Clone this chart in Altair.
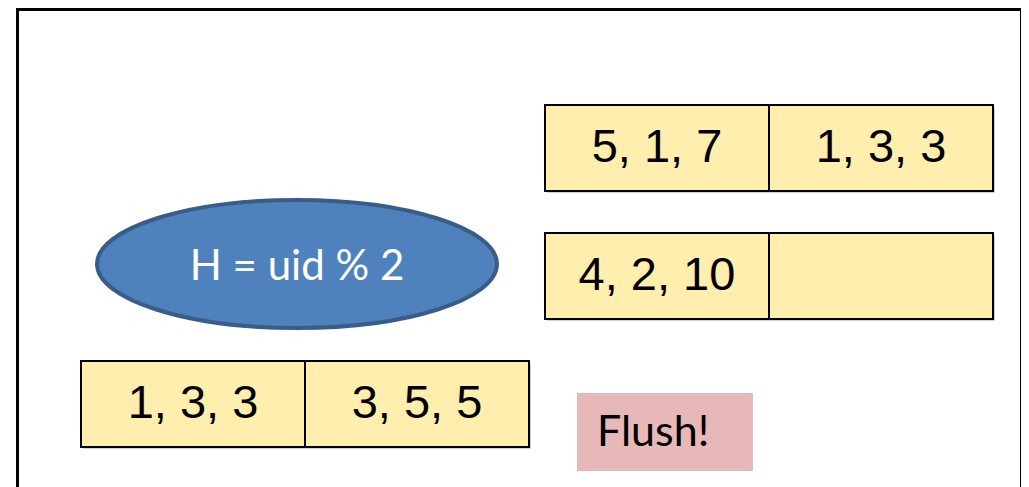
import altair as alt
import pandas as pd

# ---------------- content ----------------
upper_row = ["5, 1, 7", "1, 3, 3"]
middle_row = ["4, 2, 10", ""]
lower_row = ["1, 3, 3", "3, 5, 5"]
hash_label = ["H = uid % 2"]
flush_label = ["Flush!"]

# ---------------- layout (scene units = page pixels) ----------------
W, H = 1013, 479
X_DOM = [8, 8 + W]
Y_DOM = [8, 8 + H]
CELL_W, CELL_H = 224, 86
row_layout = [(545, 105, upper_row), (545, 233, middle_row), (81, 361, lower_row)]

cells = []
for x0, y0, labels in row_layout:
    for i, lab in enumerate(labels):
        x = x0 + i * CELL_W
        cells.append(dict(x=x, x2=x + CELL_W, y=y0, y2=y0 + CELL_H,
                          cx=x + CELL_W / 2, cy=y0 + CELL_H / 2, label=lab,
                          sx=x + 2, sx2=x + CELL_W + 2, sy=y0 + 2, sy2=y0 + CELL_H + 2))
cells_df = pd.DataFrame(cells)

frame_df = pd.DataFrame([dict(x=17.5, x2=1021.5, y=9.5, y2=520)])
ellipse_df = pd.DataFrame([dict(x=297, y=264, tx=297, ty=267, label=hash_label[0])])
flush_df = pd.DataFrame([dict(x=577, x2=753, y=393, y2=471, tx=597, ty=433, label=flush_label[0])])

xs = alt.Scale(domain=X_DOM, nice=False, zero=False)
ys = alt.Scale(domain=Y_DOM, nice=False, zero=False, reverse=True)


def X(f):
    return alt.X(f, type="quantitative", scale=xs, axis=None)


def Y(f):
    return alt.Y(f, type="quantitative", scale=ys, axis=None)


frame = alt.Chart(frame_df).mark_rect(filled=False, fill=None, stroke="black", strokeWidth=3).encode(
    x=X("x"), x2="x2", y=Y("y"), y2="y2")

shadow = alt.Chart(cells_df).mark_rect(color="#7f7f7f", opacity=0.35).encode(
    x=X("sx"), x2="sx2", y=Y("sy"), y2="sy2")

boxes = alt.Chart(cells_df).mark_rect(fill="#FFEEAD", stroke="black", strokeWidth=2).encode(
    x=X("x"), x2="x2", y=Y("y"), y2="y2")

box_text = alt.Chart(cells_df).mark_text(font="Liberation Sans", fontSize=47, align="center",
                                         baseline="middle", color="black").encode(
    x=X("cx"), y=Y("cy"), text="label:N")

r = 128 / 400
k = 0.5523
ELLIPSE = (f"M -1 0 C -1 {-r*k:.4f} {-k} {-r:.4f} 0 {-r:.4f} "
           f"C {k} {-r:.4f} 1 {-r*k:.4f} 1 0 "
           f"C 1 {r*k:.4f} {k} {r:.4f} 0 {r:.4f} "
           f"C {-k} {r:.4f} -1 {r*k:.4f} -1 0 Z")

ellipse = alt.Chart(ellipse_df).mark_point(shape=ELLIPSE, size=400 ** 2, filled=True, fill="#4F81BD",
                                           stroke="#385D8A", strokeWidth=4, opacity=1,
                                           fillOpacity=1, strokeOpacity=1).encode(
    x=X("x"), y=Y("y"))

ellipse_text = alt.Chart(ellipse_df).mark_text(font="Lato", fontSize=42, align="center",
                                               baseline="middle", color="white").encode(
    x=X("tx"), y=Y("ty"), text="label:N")

flush = alt.Chart(flush_df).mark_rect(fill="#E6B9B8").encode(
    x=X("x"), x2="x2", y=Y("y"), y2="y2")

flush_text = alt.Chart(flush_df).mark_text(font="Lato", fontSize=43, align="left",
                                           baseline="middle", color="black").encode(
    x=X("tx"), y=Y("ty"), text="label:N")

chart = alt.layer(frame, shadow, boxes, box_text, ellipse, ellipse_text, flush, flush_text).properties(
    width=W, height=H, padding=0, autosize=alt.AutoSizeParams(type="none")
).configure_view(stroke=None)

chart.save("out.html", embed_options={"renderer": "svg", "actions": False})
